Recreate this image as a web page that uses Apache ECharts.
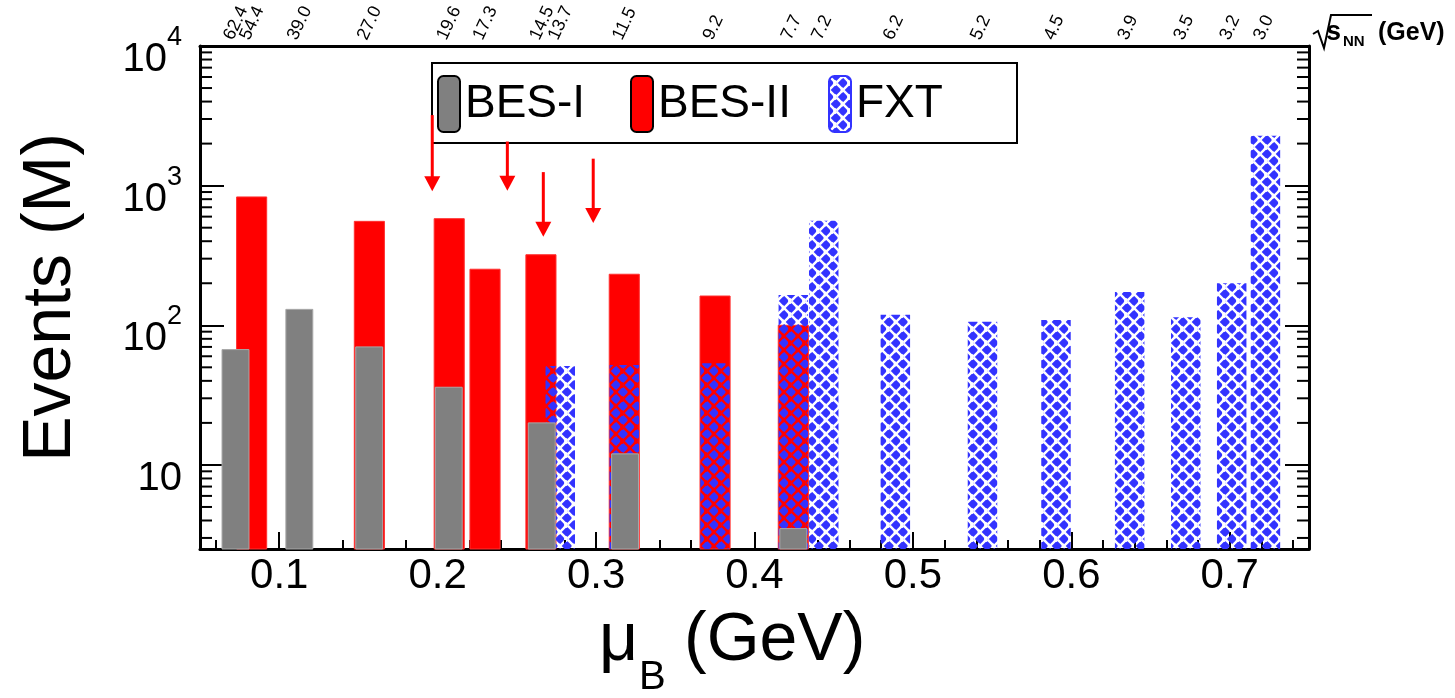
<!DOCTYPE html>
<html><head><meta charset="utf-8">
<script src="https://cdn.jsdelivr.net/npm/echarts@6/dist/echarts.min.js"></script>
<style>html,body{margin:0;padding:0;background:#fff}#c{width:1455px;height:698px}</style>
</head><body><div id="c"></div>
<script>
// ---------------- data ----------------
const besIMuB    = [0.0724, 0.1127, 0.1568, 0.2070, 0.2657, 0.3183, 0.4245];
const besIEvents = [67, 130, 70, 36, 20, 12, 3.5];
const besIIMuB    = [0.0826, 0.1569, 0.2073, 0.2299, 0.2652, 0.3178, 0.3751, 0.4245];
const besIIEvents = [830, 555, 580, 252, 320, 232, 162, 100];
const fxtMuB    = [0.2774, 0.3178, 0.3751, 0.4245, 0.4437, 0.4889, 0.5439, 0.5903, 0.6368, 0.6722, 0.7012, 0.7225];
const fxtEvents = [51, 52, 53.5, 165, 560, 119, 106, 109, 173, 114, 200, 2275];
const sqrtSLabels = ['62.4','54.4','39.0','27.0','19.6','17.3','14.5','13.7','11.5','9.2','7.7','7.2','6.2','5.2','4.5','3.9','3.5','3.2','3.0'];
const sqrtSMuB    = [0.0724,0.0826,0.1127,0.1568,0.2070,0.2299,0.2657,0.2774,0.3180,0.3751,0.4245,0.4437,0.4889,0.5439,0.5903,0.6368,0.6722,0.7012,0.7225];
const arrowMuB  = [0.1966, 0.2440, 0.2667, 0.2982];
const arrowFrom = [3200, 2070, 1250, 1560];
const arrowTo   = [910, 920, 430, 540];
const xMajorTicks = [0.1, 0.2, 0.3, 0.4, 0.5, 0.6, 0.7];
const xMinorTicks = [0.06,0.08,0.12,0.14,0.16,0.18,0.22,0.24,0.26,0.28,0.32,0.34,0.36,0.38,0.42,0.44,0.46,0.48,0.52,0.54,0.56,0.58,0.62,0.64,0.66,0.68,0.72,0.74];
const yMinorTicks = [3,4,5,6,7,8,9,20,30,40,50,60,70,80,90,200,300,400,500,600,700,800,900,2000,3000,4000,5000,6000,7000,8000,9000];
const legendNames = ['BES-I', 'BES-II', 'FXT'];

// ---------------- styles ----------------
const X_MIN = 0.05, X_MAX = 0.75, Y_MIN = 2.5, Y_MAX = 10000;
const W_BES1 = 0.017, W_BES2 = 0.019, W_FXT = 0.0186;
const FONT = '"Liberation Sans", Arial, Helvetica, sans-serif';
const BLUE = '#3333ff';
const GRAY = '#808080', RED = '#ff0000';

function makePattern() {
  const c = document.createElement('canvas');
  c.width = 14; c.height = 14;
  const g = c.getContext('2d');
  g.fillStyle = BLUE; g.fillRect(0, 0, 14, 14);
  g.globalCompositeOperation = 'destination-out';
  g.strokeStyle = '#000'; g.fillStyle = '#000';
  g.lineCap = 'round'; g.lineWidth = 2.4;
  const segs = [[0.5,0.5,5.8,5.8],[8.2,5.8,13.5,0.5],[0.5,13.5,5.8,8.2],[8.2,8.2,13.5,13.5]];
  segs.forEach(s => {
    g.beginPath(); g.moveTo(s[0], s[1]); g.lineTo(s[2], s[3]); g.stroke();
    g.beginPath(); g.arc(s[2], s[3], 1.9, 0, 2*Math.PI); g.fill();
  });
  return c;
}
const fxtPattern = { image: makePattern(), repeat: 'repeat' };

function barRenderer(width, style) {
  return function (params, api) {
    const x = api.value(0), v = api.value(1);
    const p1 = api.coord([x - width / 2, v]);
    const p2 = api.coord([x + width / 2, Y_MIN]);
    const cs = params.coordSys;
    const rect = echarts.graphic.clipRectByRect(
      { x: p1[0], y: p1[1], width: p2[0] - p1[0], height: p2[1] - p1[1] },
      { x: cs.x, y: cs.y, width: cs.width, height: cs.height });
    if (!rect) return;
    return { type: 'rect', shape: rect, style: style };
  };
}

function legendFor(name, left, color, border) {
  return {
    left: left, top: 75, orient: 'horizontal', padding: 0,
    itemWidth: 22, itemHeight: 56, icon: 'roundRect', selectedMode: false, z: 4,
    textStyle: { fontSize: 46, fontFamily: FONT, color: '#000' },
    data: [{ name: name, itemStyle: { color: color, borderColor: border, borderWidth: 2 } }]
  };
}

const chart = echarts.init(document.getElementById('c'), null, { renderer: 'canvas' });

const option = {
  animation: false,
  backgroundColor: '#fff',
  grid: { left: 200, right: 146, top: 46, bottom: 149, containLabel: false, outerBoundsMode: 'none' },
  legend: [
    legendFor(legendNames[0], 437, GRAY, '#000'),
    legendFor(legendNames[1], 630, RED, '#000'),
    legendFor(legendNames[2], 828, fxtPattern, BLUE)
  ],
  xAxis: [
    {
      type: 'value', min: X_MIN, max: X_MAX, position: 'bottom',
      axisLine: { show: true, onZero: false, lineStyle: { color: '#000', width: 3 } },
      axisTick: { show: true, inside: true, length: 17, customValues: xMajorTicks, lineStyle: { color: '#000', width: 2 } },
      axisLabel: { show: true, customValues: xMajorTicks, fontSize: 42, fontFamily: FONT, color: '#000', margin: 6,
                   formatter: v => v.toFixed(1) },
      splitLine: { show: false }
    },
    {
      type: 'value', min: X_MIN, max: X_MAX, position: 'bottom',
      axisLine: { show: false },
      axisTick: { show: true, inside: true, length: 9, customValues: xMinorTicks, lineStyle: { color: '#000', width: 2 } },
      axisLabel: { show: false }, splitLine: { show: false }
    },
    {
      type: 'value', min: X_MIN, max: X_MAX, position: 'top',
      axisLine: { show: true, onZero: false, lineStyle: { color: '#000', width: 3 } },
      axisTick: { show: false }, axisLabel: { show: false }, splitLine: { show: false }
    }
  ],
  yAxis: [
    {
      type: 'log', logBase: 10, min: Y_MIN, max: Y_MAX, position: 'left',
      axisLine: { show: true, onZero: false, lineStyle: { color: '#000', width: 3 } },
      axisTick: { show: true, inside: true, length: 24, lineStyle: { color: '#000', width: 2 } },
      axisLabel: {
        show: true, margin: 18, padding: [12, 0, 0, 0],
        formatter: function (v) {
          const e = Math.log10(v);
          if (Math.abs(e - Math.round(e)) > 1e-6) return '';
          const n = Math.round(e);
          return n === 1 ? '{b|10}' : '{b|10}{s|' + n + '}';
        },
        rich: {
          b: { fontSize: 40, fontFamily: FONT, color: '#000', lineHeight: 56, verticalAlign: 'bottom' },
          s: { fontSize: 27, fontFamily: FONT, color: '#000', lineHeight: 27, verticalAlign: 'top' }
        }
      },
      splitLine: { show: false },
      name: 'Events (M)', nameLocation: 'middle', nameGap: 115,
      nameTextStyle: { fontSize: 68, fontFamily: FONT, color: '#000' }
    },
    {
      type: 'log', logBase: 10, min: Y_MIN, max: Y_MAX, position: 'right',
      axisLine: { show: true, onZero: false, lineStyle: { color: '#000', width: 3 } },
      axisTick: { show: true, inside: true, length: 24, lineStyle: { color: '#000', width: 2 } },
      axisLabel: { show: false }, splitLine: { show: false }
    }
  ],
  graphic: [
    // legend frame
    { type: 'rect', z: 1, shape: { x: 432, y: 63, width: 585, height: 80 },
      style: { fill: '#fff', stroke: '#000', lineWidth: 2 } },
    // x-axis title  μ_B (GeV)
    { type: 'text', x: 599, y: 675, style: { text: 'μ', font: '68px ' + FONT, fill: '#000', textVerticalAlign: 'bottom', verticalAlign: 'bottom' } },
    { type: 'text', x: 639, y: 698, style: { text: 'B', font: '40px ' + FONT, fill: '#000', textVerticalAlign: 'bottom', verticalAlign: 'bottom' } },
    { type: 'text', x: 684, y: 675, style: { text: '(GeV)', font: '68px ' + FONT, fill: '#000', textVerticalAlign: 'bottom', verticalAlign: 'bottom' } },
    // top axis title  √s_NN (GeV)
    { type: 'polyline', z: 10, shape: { points: [[1313, 34], [1318, 31], [1324, 48], [1331, 15], [1372, 15]] },
      style: { stroke: '#000', lineWidth: 2, fill: null } },
    { type: 'text', z: 10, x: 1326, y: 46, style: { text: 's', font: 'bold 27px ' + FONT, fill: '#000', textVerticalAlign: 'bottom', verticalAlign: 'bottom' } },
    { type: 'text', z: 10, x: 1343, y: 49, style: { text: 'NN', font: 'bold 15px ' + FONT, fill: '#000', textVerticalAlign: 'bottom', verticalAlign: 'bottom' } },
    { type: 'text', z: 10, x: 1378, y: 46, style: { text: '(GeV)', font: 'bold 25px ' + FONT, fill: '#000', textVerticalAlign: 'bottom', verticalAlign: 'bottom' } }
  ],
  series: [
    {
      name: 'BES-II', type: 'custom', xAxisIndex: 0, yAxisIndex: 0, z: 2,
      itemStyle: { color: RED },
      renderItem: barRenderer(W_BES2, { fill: RED, stroke: '#ff3030', lineWidth: 1 }),
      data: besIIMuB.map((m, i) => [m, besIIEvents[i]])
    },
    {
      name: 'FXT', type: 'custom', xAxisIndex: 0, yAxisIndex: 0, z: 2,
      itemStyle: { color: BLUE },
      renderItem: barRenderer(W_FXT, { fill: fxtPattern }),
      data: fxtMuB.map((m, i) => [m, fxtEvents[i]])
    },
    {
      name: 'BES-I', type: 'custom', xAxisIndex: 0, yAxisIndex: 0, z: 2,
      itemStyle: { color: GRAY },
      renderItem: barRenderer(W_BES1, { fill: GRAY, stroke: '#a8a8a8', lineWidth: 1 }),
      data: besIMuB.map((m, i) => [m, besIEvents[i]])
    },
    {
      name: 'minorTicksY', type: 'custom', xAxisIndex: 0, yAxisIndex: 0, z: 3, silent: true,
      renderItem: function (params, api) {
        const y = api.coord([X_MIN, api.value(1)])[1];
        const cs = params.coordSys;
        return { type: 'group', children: [
          { type: 'line', shape: { x1: cs.x, y1: y, x2: cs.x + 12, y2: y }, style: { stroke: '#000', lineWidth: 2 } },
          { type: 'line', shape: { x1: cs.x + cs.width - 12, y1: y, x2: cs.x + cs.width, y2: y }, style: { stroke: '#000', lineWidth: 2 } }
        ] };
      },
      data: yMinorTicks.map(v => [X_MIN, v])
    },
    {
      name: 'sqrtS', type: 'custom', xAxisIndex: 0, yAxisIndex: 0, z: 5, silent: true, clip: false,
      renderItem: function (params, api) {
        const p = api.coord([api.value(0), Y_MAX]);
        return { type: 'text', x: p[0] - 7, y: p[1] - 7, rotation: 65 * Math.PI / 180,
          style: { text: sqrtSLabels[params.dataIndex], font: '18px ' + FONT, fill: '#000',
                   textAlign: 'left', align: 'left', textVerticalAlign: 'middle', verticalAlign: 'middle' } };
      },
      data: sqrtSMuB.map(m => [m, Y_MAX])
    },
    {
      name: 'arrows', type: 'custom', xAxisIndex: 0, yAxisIndex: 0, z: 10, silent: true, clip: false,
      renderItem: function (params, api) {
        const x = api.value(0);
        const p1 = api.coord([x, api.value(1)]);
        const p2 = api.coord([x, api.value(2)]);
        const hl = 15, hw = 8;
        return { type: 'group', children: [
          { type: 'line', shape: { x1: p1[0], y1: p1[1], x2: p2[0], y2: p2[1] - hl + 1 }, style: { stroke: RED, lineWidth: 3 } },
          { type: 'polygon', shape: { points: [[p2[0] - hw, p2[1] - hl], [p2[0] + hw, p2[1] - hl], [p2[0], p2[1]]] }, style: { fill: RED } }
        ] };
      },
      data: arrowMuB.map((m, i) => [m, arrowFrom[i], arrowTo[i]])
    }
  ]
};
chart.setOption(option);
</script>
</body></html>
